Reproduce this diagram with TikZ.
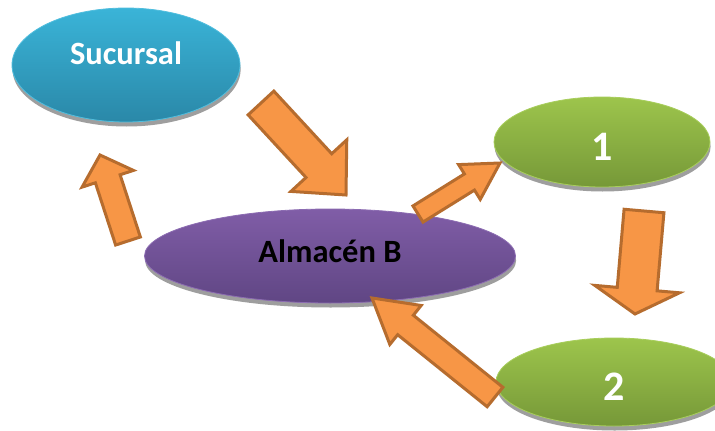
\documentclass[tikz,border=0pt]{standalone}
\usepackage{fontspec}
\setmainfont{Carlito}
\usetikzlibrary{shapes.geometric,calc,shadows}

\definecolor{arrowfill}{RGB}{247,150,70}
\definecolor{arrowline}{RGB}{182,108,46}
\definecolor{blueTop}{RGB}{58,180,216}
\definecolor{blueBot}{RGB}{42,136,168}
\definecolor{blueRim}{RGB}{80,190,222}
\definecolor{violetTop}{RGB}{128,93,167}
\definecolor{violetBot}{RGB}{96,70,132}
\definecolor{violetRim}{RGB}{140,108,178}
\definecolor{greenTop}{RGB}{157,197,76}
\definecolor{greenBot}{RGB}{118,152,56}
\definecolor{greenRim}{RGB}{168,206,92}

% block arrow from tail #1 to tip #2:
% #3 half shaft width, #4 half head width, #5 head length
\newcommand{\blockarrow}[5]{%
  \path ($(#2)!#5!(#1)$) coordinate (#1-base);
  \draw[flowarrow]
    ($(#1)!#3!90:(#2)$) -- ($(#1-base)!#3!90:(#2)$) --
    ($(#1-base)!#4!90:(#2)$) -- (#2) --
    ($(#1-base)!#4!-90:(#2)$) -- ($(#1-base)!#3!-90:(#2)$) --
    ($(#1)!#3!-90:(#2)$) -- cycle;
}

\begin{document}
\begin{tikzpicture}[x=1pt,y=-1pt,
  bubble/.style={ellipse, inner sep=0pt, line width=0.8pt,
    shading=axis, shading angle=0,
    drop shadow={shadow xshift=0.6pt, shadow yshift=-4.5pt,
      fill=black!38, opacity=1}},
  wordtext/.style={font=\fontsize{32.5}{38}\selectfont\bfseries},
  digittext/.style={font=\fontsize{42}{50}\selectfont\bfseries,
    text=white, text height=37pt, text depth=0pt},
  flowarrow/.style={fill=arrowfill, draw=arrowline, line width=3pt,
    line join=miter, miter limit=10}]

\useasboundingbox (0,0) rectangle (715,431);
\fill[white] (0,0) rectangle (715,431);

% the four places
\node[bubble, wordtext, text=white, draw=blueRim,
  top color=blueTop, bottom color=blueBot,
  minimum width=228pt, minimum height=114pt,
  text height=22pt, text depth=24pt] (suc) at (126,65) {Sucursal};
\node[bubble, wordtext, text=black, draw=violetRim,
  top color=violetTop, bottom color=violetBot,
  minimum width=371pt, minimum height=94pt,
  text height=22pt, text depth=10pt] (alm) at (330,256) {Almacén B};
\node[bubble, digittext, draw=greenRim,
  top color=greenTop, bottom color=greenBot,
  minimum width=216pt, minimum height=90pt] (one) at (602,142) {1};
\node[bubble, digittext, draw=greenRim,
  top color=greenTop, bottom color=greenBot,
  minimum width=236pt, minimum height=88pt] (two) at (614,382) {2};

% arrow ends
\coordinate (sucOut) at (261,103);  \coordinate (almIn)  at (346,195);
\coordinate (almUp)  at (128,241);  \coordinate (sucIn)  at (100,155);
\coordinate (almOut) at (418,214);  \coordinate (oneIn)  at (500,163);
\coordinate (oneOut) at (644,211);  \coordinate (twoIn)  at (635,314);
\coordinate (twoOut) at (495,397);  \coordinate (almBot) at (372,298);

% flows between the places
\blockarrow{sucOut}{almIn}{17.5pt}{38pt}{40pt}
\blockarrow{almUp}{sucIn}{13pt}{27pt}{25pt}
\blockarrow{almOut}{oneIn}{9.5pt}{20.5pt}{36pt}
\blockarrow{oneOut}{twoIn}{20pt}{42.5pt}{25pt}
\blockarrow{twoOut}{almBot}{12.5pt}{25pt}{43pt}

\end{tikzpicture}
\end{document}
